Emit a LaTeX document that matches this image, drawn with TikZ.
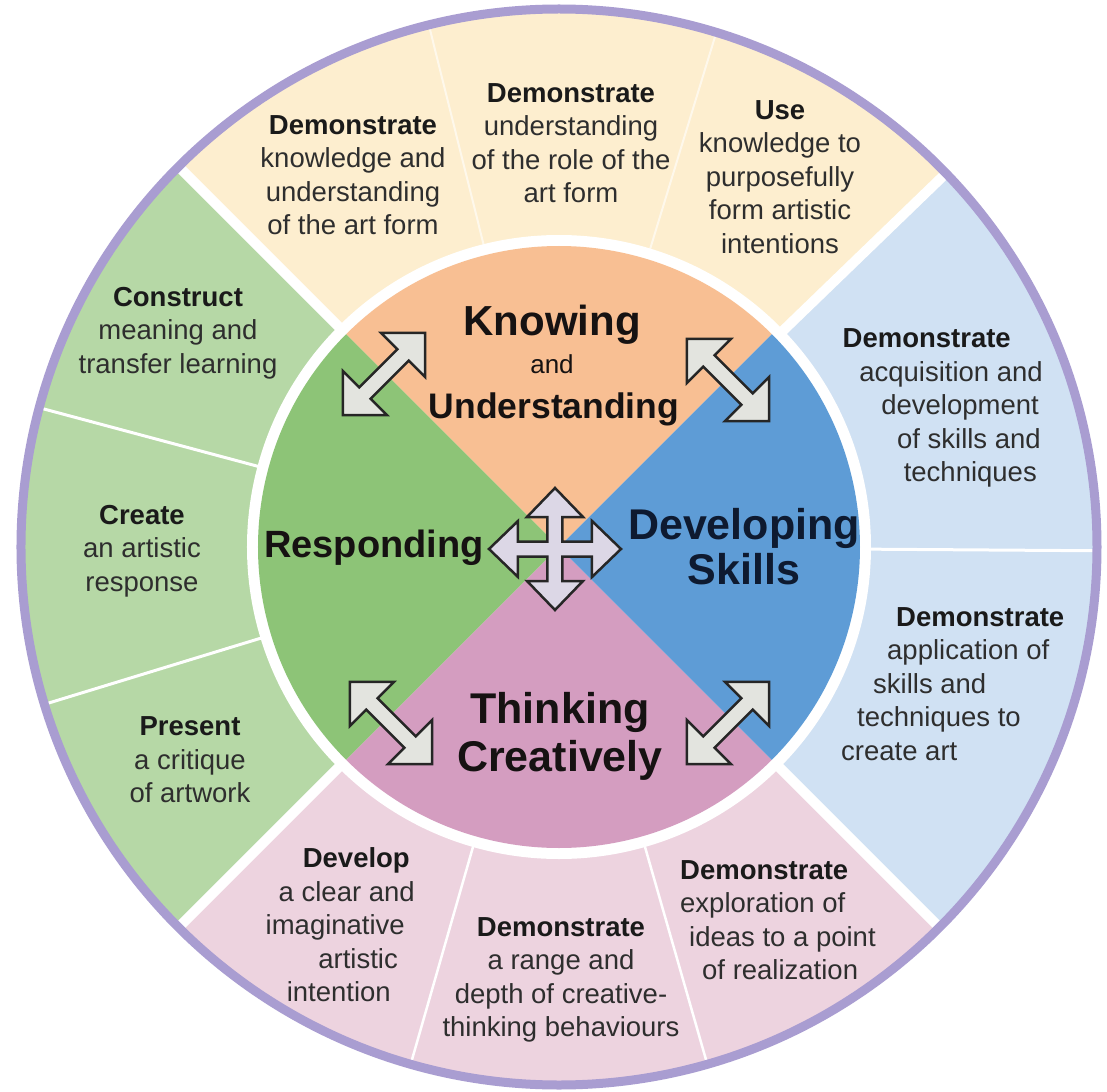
\documentclass[tikz,border=0pt]{standalone}
\usepackage{fontspec}
\setmainfont{Liberation Sans}
\definecolor{yOut}{HTML}{FDEECF}
\definecolor{gOut}{HTML}{B6D8A6}
\definecolor{pOut}{HTML}{EDD3DF}
\definecolor{bOut}{HTML}{D0E1F3}
\definecolor{oIn}{HTML}{F8BF93}
\definecolor{gIn}{HTML}{8DC477}
\definecolor{pIn}{HTML}{D49DC0}
\definecolor{bIn}{HTML}{5E9CD6}
\definecolor{rim}{HTML}{A99DD1}
\definecolor{bodyc}{HTML}{2E2E2E}
\definecolor{headc}{HTML}{1A1A1A}
\definecolor{bigc}{HTML}{161212}
\definecolor{navyc}{HTML}{0E1A30}
\definecolor{arrfill}{HTML}{E3E4DF}
\definecolor{crossfill}{HTML}{DCD7E6}
\definecolor{arrline}{HTML}{262626}
\newcommand\headw[1]{\textbf{\color{headc}#1}}
\begin{document}
\begin{tikzpicture}[x=1bp,y=1bp,
  outtxt/.style={align=center, inner sep=0pt, text=bodyc,
    font=\fontsize{27.5bp}{33.5bp}\selectfont},
  bigtxt/.style={inner sep=0pt, anchor=base, text=bigc,
    font=\bfseries\fontsize{43bp}{48bp}\selectfont},
  dblarrow/.style={fill=arrfill, draw=arrline, line width=2.5bp, line join=miter},
  crossarrow/.style={fill=crossfill, draw=arrline, line width=2.5bp, line join=miter},
  sep/.style={draw=white, line width=#1},
]
\useasboundingbox (-559,-545) rectangle (548,547);
\fill[white] (-559,-545) rectangle (548,547);

% outer ring sectors
\fill[yOut] (0,0) -- (44:538) arc[start angle=44,end angle=135,radius=538] -- cycle;
\fill[gOut] (0,0) -- (135:538) arc[start angle=135,end angle=225,radius=538] -- cycle;
\fill[pOut] (0,0) -- (225:538) arc[start angle=225,end angle=315,radius=538] -- cycle;
\fill[bOut] (0,0) -- (-45:538) arc[start angle=-45,end angle=44,radius=538] -- cycle;

% separators inside groups
\draw[sep=2bp, draw opacity=0.6] (73:300) -- (73:540);
\draw[sep=2bp, draw opacity=0.6] (104:300) -- (104:540);
\draw[sep=3bp] (165:300) -- (165:540);
\draw[sep=3bp] (197:300) -- (197:540);
\draw[sep=2.5bp] (254:300) -- (254:540);
\draw[sep=2.5bp] (286:300) -- (286:540);
\draw[sep=3bp] (-0.4:300) -- (-0.4:540);
% separators between groups
\foreach \a in {44,135,225,315}
  \draw[sep=10bp] (\a:300) -- (\a:545);

% white ring and inner quadrants
\fill[white] (0,0) circle[radius=312];
\fill[oIn] (0,0) -- (45:301) arc[start angle=45,end angle=135,radius=301] -- cycle;
\fill[gIn] (0,0) -- (135:301) arc[start angle=135,end angle=225,radius=301] -- cycle;
\fill[pIn] (0,0) -- (225:301) arc[start angle=225,end angle=315,radius=301] -- cycle;
\fill[bIn] (0,0) -- (-45:301) arc[start angle=-45,end angle=45,radius=301] -- cycle;

% purple rim
\draw[rim, line width=9bp] (0,0) circle[radius=538];

% outer texts
\node[outtxt] (y1) at (-206,372) {\headw{Demonstrate}\\knowledge and\\understanding\\of the art form};
\node[outtxt] (y2) at (12,404) {\headw{Demonstrate}\\understanding\\of the role of the\\art form};
\node[outtxt] (y3) at (221,370) {\headw{Use}\\knowledge to\\purposefully\\form artistic\\intentions};
\node[outtxt, align=right, anchor=east] (b1) at (484,139) {\headw{Demonstrate}\hspace*{32bp}\mbox{}\\acquisition and\\development\hspace*{4bp}\mbox{}\\of skills and\hspace*{2bp}\mbox{}\\techniques\hspace*{6bp}\mbox{}};
\node[outtxt, align=left, anchor=west] (b2) at (282,-137) {\hspace*{55bp}\headw{Demonstrate}\\\hspace*{46bp}application of\\\hspace*{32bp}skills and\\\hspace*{16bp}techniques to\\create art};
\node[outtxt, align=left, anchor=west] (p3) at (121,-373) {\headw{Demonstrate}\\exploration of\\\hspace*{9bp}ideas to a point\\\hspace*{22bp}of realization};
\node[outtxt] (p2) at (2,-433) {\headw{Demonstrate}\\a range and\\depth of creative-\\thinking behaviours};
\node[outtxt, align=right, anchor=east] (p1) at (-144,-378) {\headw{Develop}\hspace*{5bp}\mbox{}\\a clear and\\imaginative\hspace*{10bp}\mbox{}\\artistic\hspace*{17bp}\mbox{}\\intention\hspace*{24bp}\mbox{}};
\node[outtxt] (g3) at (-369,-213) {\headw{Present}\\a critique\\of artwork};
\node[outtxt] (g2) at (-417,-4) {\headw{Create}\\an artistic\\response};
\node[outtxt] (g1) at (-381,214) {\headw{Construct}\\meaning and\\transfer learning};

% inner labels
\node[bigtxt, font=\bfseries\fontsize{42bp}{48bp}\selectfont] (know) at (-7,212) {Knowing};
\node[bigtxt, font=\fontsize{26bp}{30bp}\selectfont] (and) at (-7,174) {and};
\node[bigtxt, font=\bfseries\fontsize{35.5bp}{40bp}\selectfont] (under) at (-5,129) {Understanding};
\node[bigtxt, text=navyc] (dev) at (185,8) {Developing};
\node[bigtxt, text=navyc] (skills) at (185,-37) {Skills};
\node[bigtxt, font=\bfseries\fontsize{38bp}{44bp}\selectfont] (resp) at (-185,-10) {Responding};
\node[bigtxt] (think) at (1,-176) {Thinking};
\node[bigtxt] (creat) at (1,-224) {Creatively};

% diagonal double arrows
\foreach \cx/\cy/\rot in {-175/173/45, 169/167/-45, -168/-176/-45, 169/-176/45}
  \draw[dblarrow, shift={(\cx,\cy)}, rotate=\rot]
    (58,0) -- (27,31) -- (27,8) -- (-27,8) -- (-27,31) -- (-58,0)
    -- (-27,-31) -- (-27,-8) -- (27,-8) -- (27,-31) -- cycle;

% central four-way arrow
\draw[crossarrow, shift={(-4,-2)}]
  (66,0) -- (37,28) -- (37,7.5) -- (7.5,7.5) -- (7.5,32) -- (28,32) -- (0,61)
  -- (-28,32) -- (-7.5,32) -- (-7.5,7.5) -- (-37,7.5) -- (-37,28) -- (-66,0)
  -- (-37,-28) -- (-37,-7.5) -- (-7.5,-7.5) -- (-7.5,-32) -- (-28,-32) -- (0,-61)
  -- (28,-32) -- (7.5,-32) -- (7.5,-7.5) -- (37,-7.5) -- (37,-28) -- cycle;
\end{tikzpicture}
\end{document}
